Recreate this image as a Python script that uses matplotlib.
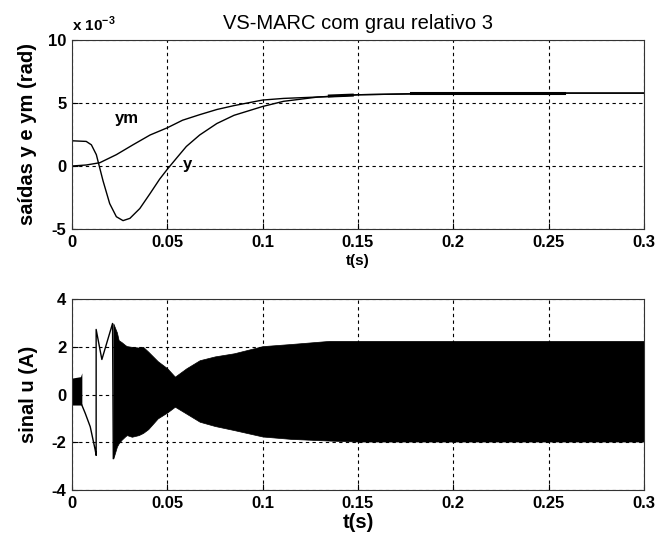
import numpy as np
import matplotlib
matplotlib.use('Agg')
import matplotlib.pyplot as plt

plt.rcParams['font.family'] = ['Liberation Sans', 'DejaVu Sans']
plt.rcParams['axes.unicode_minus'] = False

## saidas (x 1e-3)
t_ym = [0, 0.0075, 0.0146, 0.0233, 0.032, 0.041, 0.05, 0.058, 0.067, 0.076,
        0.085, 0.1, 0.111, 0.137, 0.15, 0.2, 0.3]
ym = [0, 0.08, 0.26, 0.9, 1.68, 2.46, 3.03, 3.63, 4.07, 4.48,
      4.79, 5.23, 5.36, 5.52, 5.65, 5.78, 5.78]
t_y = [0, 0.0075, 0.0102, 0.0128, 0.0163, 0.0198, 0.0233, 0.0268, 0.0304, 0.0356,
       0.0409, 0.046, 0.05, 0.055, 0.06, 0.067, 0.076, 0.085, 0.1, 0.111,
       0.129, 0.137, 0.15, 0.2, 0.3]
y = [2.0, 1.95, 1.68, 0.9, -1.17, -2.98, -4.02, -4.33, -4.15, -3.37,
     -2.2, -1.04, -0.26, 0.65, 1.55, 2.46, 3.37, 4.02, 4.72, 5.13,
     5.47, 5.54, 5.65, 5.78, 5.78]
# trechos com chattering (linha grossa)
t_ch1 = [0.135, 0.147]
ch1 = [5.55, 5.62]
t_ch2 = [0.178, 0.258]
ch2 = [5.78, 5.78]

## sinal u: envelope da oscilacao
t_b1 = [0, 0.0045, 0.0052]
b1_hi = [0.69, 0.75, 0.91]
b1_lo = [-0.44, -0.44, -0.44]
# trecho de transicao (linha)
t_tr = [0.0052, 0.007, 0.0096, 0.0122, 0.0127, 0.0127, 0.0157, 0.0213, 0.0217]
u_tr = [-0.44, -0.79, -1.35, -2.32, -2.55, 2.73, 1.47, 2.98, -2.68]
t_env = [0.0217, 0.0236, 0.0245, 0.026, 0.028, 0.0288, 0.0314, 0.035, 0.0373, 0.040,
         0.045, 0.05, 0.054, 0.06, 0.067, 0.075, 0.085, 0.1, 0.115, 0.135, 0.15, 0.3]
env_hi = [2.98, 2.6, 2.28, 2.2, 2.07, 2.03, 2.0, 1.97, 2.0, 1.8,
          1.4, 1.1, 0.75, 1.1, 1.44, 1.6, 1.73, 2.03, 2.12, 2.25, 2.25, 2.25]
env_lo = [-2.68, -2.18, -2.05, -1.9, -1.75, -1.7, -1.77, -1.7, -1.61, -1.45,
          -1.0, -0.75, -0.51, -0.8, -1.14, -1.32, -1.49, -1.76, -1.86, -1.93, -1.97, -1.97]

xticks = [0, 0.05, 0.1, 0.15, 0.2, 0.25, 0.3]
xticklabels = ['0', '0.05', '0.1', '0.15', '0.2', '0.25', '0.3']


def style(ax):
    ax.set_xlim(0, 0.3)
    ax.set_xticks(xticks)
    ax.set_xticklabels(xticklabels)
    ax.tick_params(direction='in', length=4, width=0.8, labelsize=12, pad=4)
    for lab in ax.get_xticklabels() + ax.get_yticklabels():
        lab.set_fontweight('bold')
    ax.grid(True, color='black', linestyle=(0, (3, 3)), linewidth=0.8)
    ax.set_axisbelow(True)
    for s in ax.spines.values():
        s.set_linewidth(0.8)
        s.set_color('#333333')


fig = plt.figure(figsize=(6.66, 5.39), dpi=100)

ax1 = fig.add_axes([0.108, 0.575, 0.859, 0.351])
ax1.plot(t_ym, ym, color='black', linewidth=1.0)
ax1.plot(t_y, y, color='black', linewidth=1.0)
ax1.plot(t_ch1, ch1, color='black', linewidth=2.2)
ax1.plot(t_ch2, ch2, color='black', linewidth=2.2)
ax1.set_ylim(-5, 10)
ax1.set_yticks([-5, 0, 5, 10])
style(ax1)
ax1.text(0.0225, 3.4, 'ym', fontsize=12, fontweight='bold')
ax1.text(0.058, -0.2, 'y', fontsize=12, fontweight='bold')
ax1.text(0.0, 1.03, r'x 10$^{\mathregular{-3}}$', transform=ax1.transAxes,
         fontsize=11, fontweight='bold', ha='left', va='bottom')
ax1.set_title('VS-MARC com grau relativo 3', fontsize=14.5, pad=8)
ax1.set_ylabel('saídas y e ym (rad)', fontsize=14.5, fontweight='bold', labelpad=8)
ax1.set_xlabel('t(s)', fontsize=11, fontweight='bold', labelpad=3)

ax2 = fig.add_axes([0.108, 0.091, 0.859, 0.354])
ax2.fill_between(t_b1, b1_lo, b1_hi, color='black', linewidth=0)
ax2.plot(t_tr, u_tr, color='black', linewidth=1.0)
ax2.fill_between(t_env, env_lo, env_hi, color='black', linewidth=0.5)
ax2.set_ylim(-4, 4)
ax2.set_yticks([-4, -2, 0, 2, 4])
style(ax2)
ax2.set_ylabel('sinal u (A)', fontsize=14.5, fontweight='bold', labelpad=10)
ax2.set_xlabel('t(s)', fontsize=14.5, fontweight='bold', labelpad=2)

fig.savefig('out.png', dpi=100)
